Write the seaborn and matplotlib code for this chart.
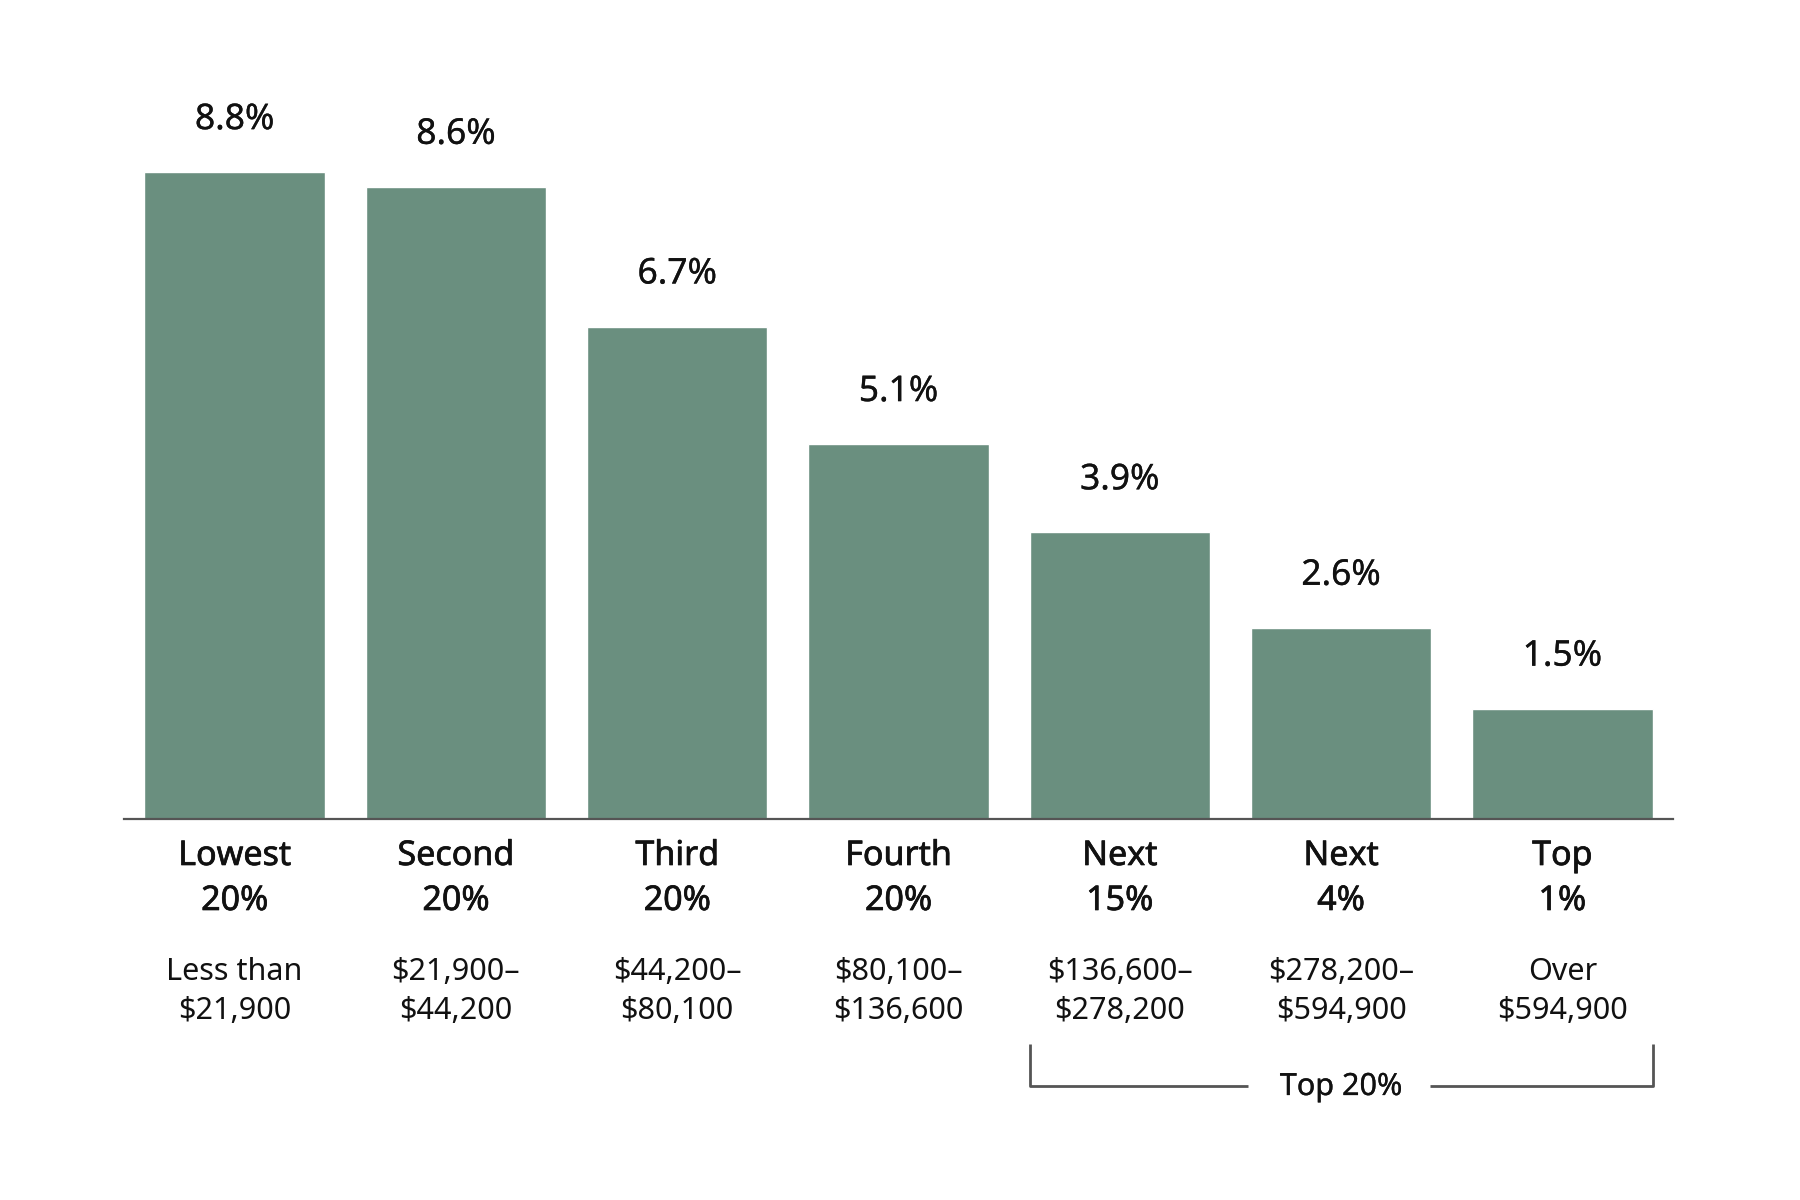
import matplotlib
matplotlib.use("Agg")
import matplotlib.pyplot as plt
import matplotlib.patheffects as pe
import seaborn as sns
import pandas as pd

categories = ["Lowest\n20%", "Second\n20%", "Third\n20%", "Fourth\n20%", "Next\n15%", "Next\n4%", "Top\n1%"]
cat_line1 = ["Lowest", "Second", "Third", "Fourth", "Next", "Next", "Top"]
cat_line2 = ["20%", "20%", "20%", "20%", "15%", "4%", "1%"]
range_line1 = ["Less than", "$21,900\u2013", "$44,200\u2013", "$80,100\u2013", "$136,600\u2013", "$278,200\u2013", "Over"]
range_line2 = ["$21,900", "$44,200", "$80,100", "$136,600", "$278,200", "$594,900", "$594,900"]
values = [8.8, 8.6, 6.7, 5.1, 3.9, 2.6, 1.5]
value_labels = ["8.8%", "8.6%", "6.7%", "5.1%", "3.9%", "2.6%", "1.5%"]
bracket_label = "Top 20%"

sns.set_theme(style="white")
plt.rcParams["font.family"] = ["Noto Sans", "DejaVu Sans"]
plt.rcParams["text.parse_math"] = False

BAR = "#6a8f7f"
LINE = "#555555"
TXT = "#111111"
medium = [pe.withStroke(linewidth=0.5, foreground=TXT)]
light_med = [pe.withStroke(linewidth=0.2, foreground=TXT)]

fig = plt.figure(figsize=(18, 12), dpi=100)
ax = fig.add_axes([124 / 1800, (1200 - 819) / 1200, 1549 / 1800, 719 / 1200])

df = pd.DataFrame({"cat": categories, "val": values})
sns.barplot(data=df, x="cat", y="val", color=BAR, saturation=1, width=0.815, ax=ax)

ax.set_xlim(-0.5, 6.5)
ax.set_ylim(0, 719 / 73.5)
ax.set_xticks([])
ax.set_yticks([])
ax.set_xlabel("")
ax.set_ylabel("")
for s in ["top", "right", "left"]:
    ax.spines[s].set_visible(False)
ax.spines["bottom"].set_color(LINE)
ax.spines["bottom"].set_linewidth(1.6)

for i, (v, lab) in enumerate(zip(values, value_labels)):
    ax.annotate(lab, (i, v), xytext=(0, 37.5), textcoords="offset points",
                ha="center", va="center", fontsize=25.5, color=TXT,
                path_effects=light_med)

tr = ax.get_xaxis_transform()
H = 719.0
def ay(px):
    return (819 - px) / H

for i in range(len(categories)):
    ax.text(i, ay(856), cat_line1[i], transform=tr, ha="center", va="center",
            fontsize=24.5, color=TXT, path_effects=medium)
    ax.text(i, ay(901), cat_line2[i], transform=tr, ha="center", va="center",
            fontsize=24.5, color=TXT, path_effects=medium)
    ax.text(i, ay(972), range_line1[i], transform=tr, ha="center", va="center",
            fontsize=22, color=TXT)
    ax.text(i, ay(1011), range_line2[i], transform=tr, ha="center", va="center",
            fontsize=22, color=TXT)

hw = 0.815 / 2
xl = 4 - hw
xr = 6 + hw
yb = ay(1086)
yt = ay(1044)
kw = dict(color=LINE, linewidth=2, transform=tr, clip_on=False, solid_capstyle="butt")
ax.plot([xl, xl, 4.58], [yt, yb, yb], **kw)
ax.plot([5.40, xr, xr], [yb, yb, yt], **kw)
ax.text(5, ay(1087), bracket_label, transform=tr, ha="center", va="center",
        fontsize=22, color=TXT, path_effects=light_med)

fig.savefig("out.png", dpi=100, facecolor="white")
